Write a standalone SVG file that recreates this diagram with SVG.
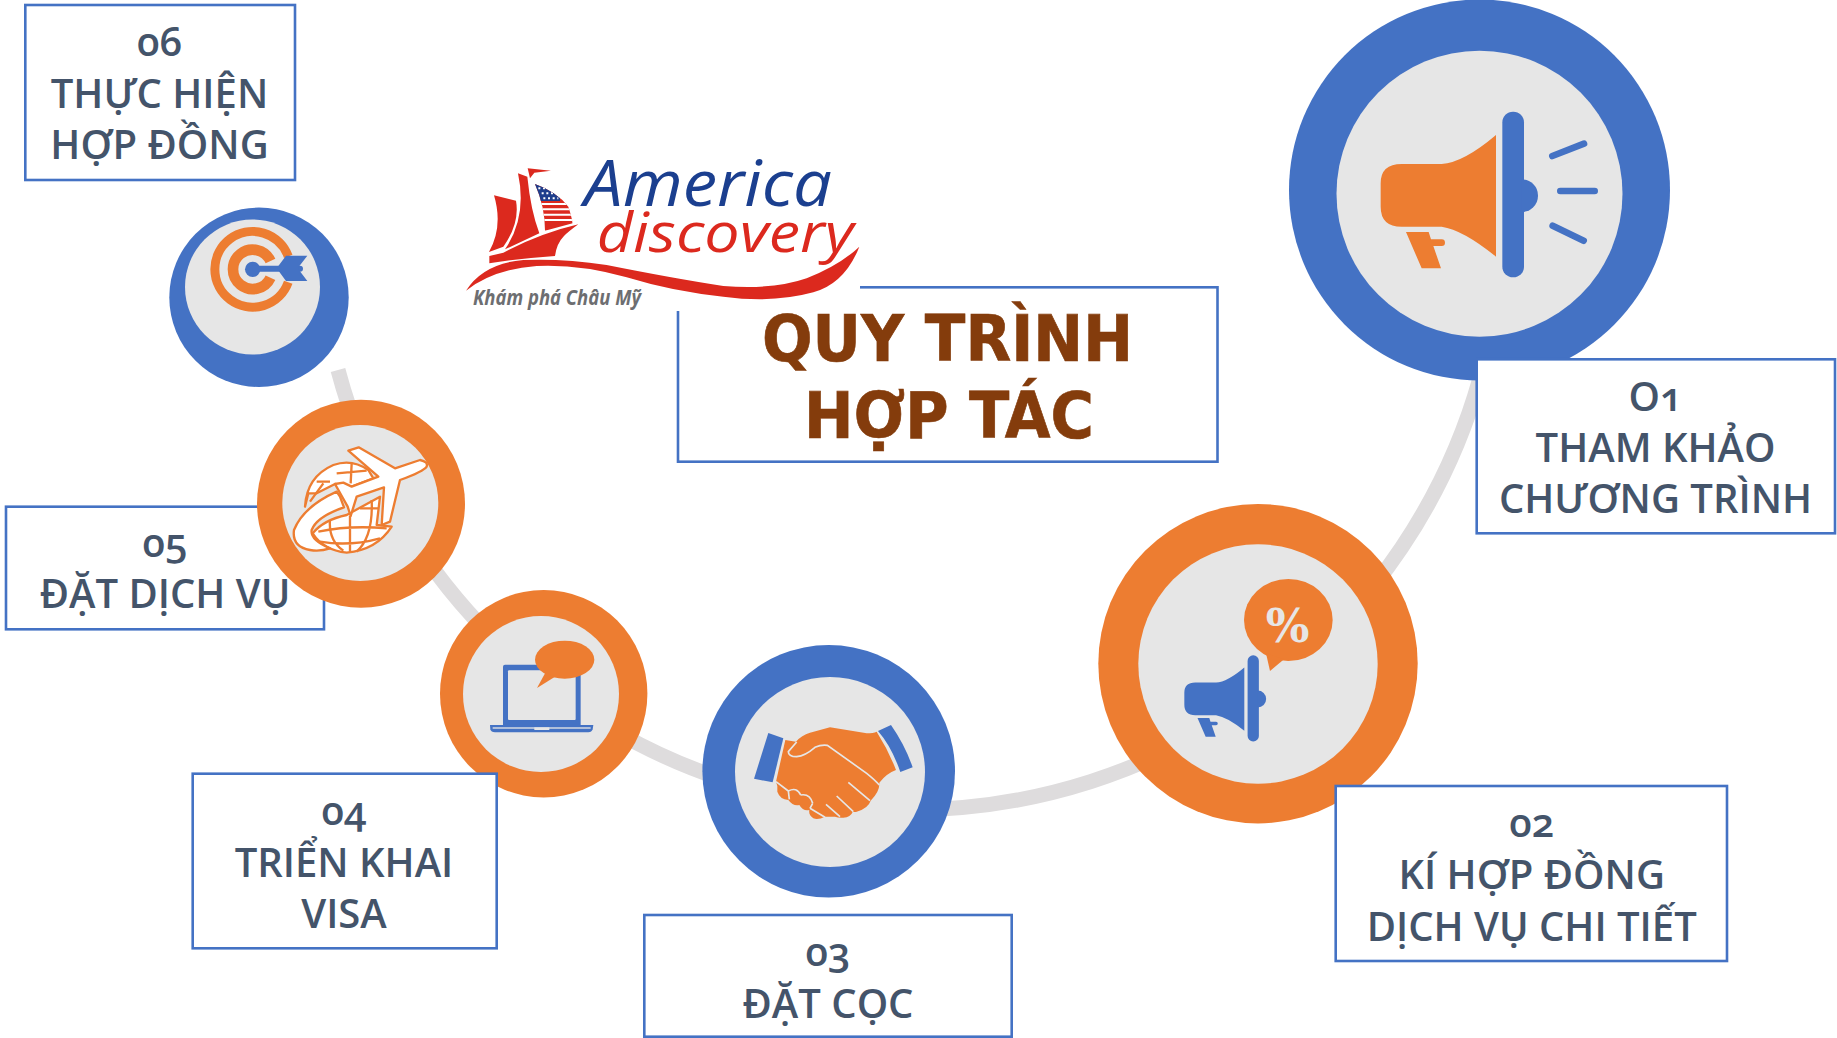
<svg xmlns="http://www.w3.org/2000/svg" width="1837" height="1038" viewBox="0 0 1837 1038">
<style>
.o{fill:#ED7D31}.b{fill:#4472C4}.g{fill:#E6E6E6}.w{fill:#fff}
.box{fill:#fff;stroke:#4472C4;stroke-width:2.6}
.lab{font-family:"Open Sans","Noto Sans",sans-serif;font-weight:600;font-size:40px;fill:#44546A;text-anchor:middle;font-feature-settings:"onum"}
.title{font-family:"DejaVu Sans","Noto Sans",sans-serif;font-weight:700;font-size:64px;fill:#843C0C;stroke:#843C0C;stroke-width:.7;text-anchor:middle}
.gb{fill:#fff;stroke:#ED7D31;stroke-width:7;stroke-linejoin:round}
.gn{fill:none;stroke:#ED7D31;stroke-width:7}
.lg{font-family:"Open Sans","Noto Sans",sans-serif;font-style:italic}
</style>
<defs>
<g id="horn"><path d="M332 550Q332 492 395 492L515 492Q580 488 678 405L678 770Q580 690 515 680L395 680Q332 680 332 620Z"/><path d="M408 696L476 696L483 718L515 718A10 10 0 0 1 515 738L490 738L513 805L455 805Z"/></g>
<g id="bar"><rect x="697" y="335" width="65" height="497" rx="32"/><path d="M755 538A49 49 0 0 1 755 636Z"/></g>
<clipPath id="usa"><path d="M285 162Q350 185 385 230Q395 260 398 280L315 302Q315 230 285 162Z"/></clipPath>
</defs>
<rect width="1837" height="1038" fill="#fff"/>

<g id="connectors"><path d="M338 370A592 592 0 0 0 1480 378" fill="none" stroke="#DEDCDD" stroke-width="15"/></g>

<g id="node-01">
<circle class="b" cx="1479.5" cy="190" r="190.5"/><circle class="g" cx="1479.5" cy="193.7" r="143"/>
<g transform="translate(1270 0) scale(.33333)">
<use href="#horn" class="o"/><use href="#bar" class="b"/>
<path d="M847 468L942 431M871 573L974 573M848 677L941 722" fill="none" stroke="#4472C4" stroke-width="20" stroke-linecap="round"/>
</g>
<rect class="box" x="1476.7" y="359.3" width="358.3" height="174"/>
<text class="lab" x="1655.5" y="410.5">O1</text><text class="lab" x="1655.5" y="461.7">THAM KHẢO</text><text class="lab" x="1655.5" y="512.7">CHƯƠNG TRÌNH</text>
</g>

<g id="node-02">
<circle class="o" cx="1258" cy="663.7" r="159.7"/><circle class="g" cx="1258" cy="664" r="119.7"/>
<g transform="translate(1126.79 597.27) scale(.17333)"><use href="#horn" class="b"/><use href="#bar" class="b"/></g>
<g transform="translate(1090 500) scale(.33333)"><ellipse class="o" cx="595" cy="360" rx="133" ry="123"/><path class="o" d="M528 460L540 513L582 478Z"/></g>
<text x="1287.7" y="641.7" font-family="'DejaVu Serif',serif" font-weight="700" font-size="46" fill="#E6E6E6" text-anchor="middle">%</text>
<rect class="box" x="1335.7" y="786" width="391.3" height="175"/>
<text class="lab" x="1531.7" y="837">02</text><text class="lab" x="1531.7" y="889">KÍ HỢP ĐỒNG</text><text class="lab" x="1531.7" y="941">DỊCH VỤ CHI TIẾT</text>
</g>

<g id="node-03">
<circle class="b" cx="828.7" cy="771.3" r="126.3"/><circle class="g" cx="830" cy="772" r="95"/>
<g transform="translate(440 590) scale(.33333)">
<path class="b" d="M985 429L1030 445L998 577L942 566Z"/>
<path class="b" d="M1314 423L1353 405Q1395 465 1418 532L1381 546Q1355 470 1314 423Z"/>
<path class="o" d="M1036 450L1068 455Q1085 435 1110 428L1170 412L1280 430Q1300 430 1310 425Q1345 480 1368 540Q1340 550 1318 578Q1320 605 1292 632Q1285 655 1248 666L1238 666Q1232 682 1210 683Q1195 684 1185 680L1155 680Q1135 690 1120 685Q1105 675 1108 660Q1090 665 1078 645Q1060 650 1045 630Q1020 628 1012 605L1012 588L1008 575Z"/>
<path d="M1070 456L1045 485Q1045 500 1070 500Q1095 498 1125 472Q1145 463 1162 466L1280 550Q1305 570 1318 585" fill="none" stroke="#E6E6E6" stroke-width="5"/>
<path d="M1225 577L1290 632M1190 618L1240 665M1158 643L1200 680M1008 575L1045 603M1045 603Q1070 590 1082 615M1082 615Q1110 610 1118 640M1118 640L1110 655M1110 655L1155 682M1048 628L1045 603" fill="none" stroke="#E6E6E6" stroke-width="5"/>
</g>
<rect class="box" x="644.3" y="915" width="367.4" height="121.7"/>
<text class="lab" x="828" y="965.5">03</text><text class="lab" x="828" y="1017.7">ĐẶT CỌC</text>
</g>

<g id="node-04">
<circle class="o" cx="543.7" cy="693.7" r="103.7"/><circle class="g" cx="541" cy="694" r="78"/>
<g transform="translate(440 590) scale(.33333)">
<rect class="b" x="189" y="224" width="233" height="186" rx="6"/><rect class="g" x="204" y="241" width="203" height="149" rx="3"/>
<path class="b" d="M150 405L460 405L458 418Q455 427 445 427L165 427Q153 427 151 418Z"/>
<rect class="g" x="158" y="412" width="294" height="4"/><rect class="g" x="283" y="412" width="45" height="8"/>
<ellipse class="o" cx="374" cy="209" rx="89" ry="57"/><path class="o" d="M316 248L291 294L345 260Z"/>
</g>
<rect class="box" x="192.7" y="773.7" width="304" height="174.6"/>
<text class="lab" x="344" y="825">04</text><text class="lab" x="344" y="876.7">TRIỂN KHAI</text><text class="lab" x="344" y="927.7">VISA</text>
</g>

<g id="node-05">
<rect class="box" x="6" y="506.7" width="318" height="122.6"/>
<circle class="o" cx="361" cy="503.7" r="104"/><circle class="g" cx="360.3" cy="503" r="78"/>
<g transform="translate(160 200) scale(.33333)">
<path class="gb" d="M435 920Q440 830 520 795Q575 775 625 810L640 835L575 860L525 852L470 880L445 880Z"/>
<path class="gn" d="M575 790L572 850M530 820L620 812M470 845L510 845M490 850L450 905"/>
<path class="gb" d="M458 1000Q490 960 560 945L660 890L650 975L695 980Q650 1050 560 1058Q490 1050 458 1000Z"/>
<path class="gn" d="M475 995Q570 975 680 985M570 948L570 1055M510 960Q505 1020 550 1052M635 900Q640 1010 590 1055M600 925L655 925M480 1025Q570 1040 660 1015"/>
<path class="gb" d="M530 875Q430 920 402 990Q395 1040 450 1050Q480 1055 510 1045Q450 1020 455 990Q470 950 552 922L540 890Z"/>
<path class="gb" d="M596 742L705 805L780 780Q805 785 800 800Q790 815 720 840L690 965L665 975L672 862L590 890L572 948L563 920L525 852L550 848L575 860L655 830L565 752Z"/>
</g>
<text class="lab" x="165" y="557">05</text><text class="lab" x="165" y="608">ĐẶT DỊCH VỤ</text>
</g>

<g id="node-06">
<circle class="b" cx="259" cy="297.3" r="89.7"/><circle class="g" cx="252.5" cy="287" r="67.5"/>
<g transform="translate(160 200) scale(.33333)">
<path d="M384.7 169.2A113.5 113.5 0 1 0 384.7 246.8" fill="none" stroke="#ED7D31" stroke-width="27"/>
<path d="M331.5 183.1A59 59 0 1 0 331.5 232.9" fill="none" stroke="#ED7D31" stroke-width="32"/>
<circle class="b" cx="278" cy="208" r="23"/>
<path class="b" d="M278 197L420 197A9 9 0 0 1 420 215L278 215Z"/>
<path class="b" d="M350 205L378 167L442 167L413 205L442 243L378 243Z"/>
</g>
<rect class="box" x="25.3" y="5" width="269.7" height="175"/>
<text class="lab" x="159.5" y="56">06</text><text class="lab" x="159.5" y="108">THỰC HIỆN</text><text class="lab" x="159.5" y="159">HỢP ĐỒNG</text>
</g>

<g id="title">
<rect class="box" x="678" y="287.3" width="539.5" height="174.4"/>
<text class="title" x="947.5" y="360.7" textLength="371" lengthAdjust="spacingAndGlyphs">QUY TRÌNH</text><text class="title" x="949" y="437.7" textLength="290" lengthAdjust="spacingAndGlyphs">HỢP TÁC</text>
</g>

<g id="logo">
<rect class="w" x="462" y="150" width="398" height="161"/>
<g transform="translate(440 130) scale(.33333)" fill="#DC291E">
<path d="M78 482Q130 400 250 390Q370 385 500 405Q700 445 850 468Q1000 480 1100 445Q1200 405 1258 350Q1215 460 1120 487Q1000 520 850 500Q700 485 560 442Q420 402 290 408Q160 418 78 482Z"/>
<path d="M148 378L148 400Q240 385 345 378Q350 340 372 318Q385 305 415 283Q300 310 190 368Z"/>
<path d="M162 196L228 212Q240 280 190 350L147 366Q190 290 162 196Z"/>
<path d="M234 130L262 140Q272 240 298 310L195 358Q262 260 234 130Z"/>
<path d="M263 115L333 122L283 128L270 145Z"/>
<g clip-path="url(#usa)">
<rect x="280" y="160" width="125" height="150"/>
<path d="M280 222H400M280 238H400M280 254H400M280 270H400" stroke="#fff" stroke-width="6"/>
<path d="M280 155H360V213H280Z" fill="#1F3E8C"/>
<path d="M295 175H345M305 190H350M310 205H355" stroke="#fff" stroke-width="6" stroke-dasharray="6 8"/>
</g>
</g>
<text class="lg" x="584" y="206" font-size="64" font-weight="500" fill="#1B3F8F" textLength="248" lengthAdjust="spacingAndGlyphs">America</text>
<text class="lg" x="596.7" y="251.7" font-size="55" font-weight="500" fill="#DC291E" textLength="257" lengthAdjust="spacingAndGlyphs">discovery</text>
<text class="lg" x="473" y="305" font-size="22" font-weight="700" fill="#6D6E71" textLength="168" lengthAdjust="spacingAndGlyphs">Khám phá Châu Mỹ</text>
</g>
</svg>
